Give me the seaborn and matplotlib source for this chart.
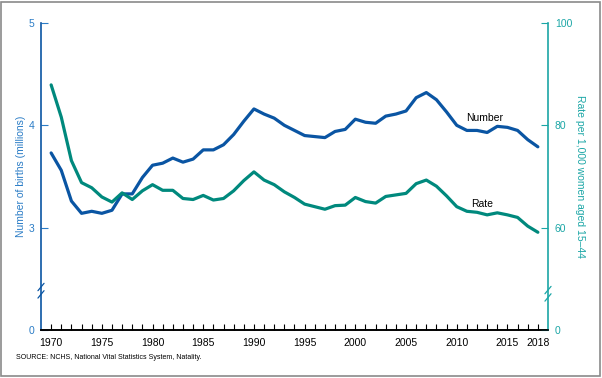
import pandas as pd
import seaborn as sns
import matplotlib.pyplot as plt
from matplotlib.transforms import blended_transform_factory

# Births (millions) and general fertility rate, 1970-2018
years = list(range(1970, 2019))
births = [3.73, 3.56, 3.26, 3.14, 3.16, 3.14, 3.17, 3.33, 3.33, 3.49,
          3.61, 3.63, 3.68, 3.64, 3.67, 3.76, 3.76, 3.81, 3.91, 4.04,
          4.16, 4.11, 4.07, 4.00, 3.95, 3.90, 3.89, 3.88, 3.94, 3.96,
          4.06, 4.03, 4.02, 4.09, 4.11, 4.14, 4.27, 4.32, 4.25, 4.13,
          4.00, 3.95, 3.95, 3.93, 3.99, 3.98, 3.95, 3.86, 3.79]
rate = [87.9, 81.6, 73.1, 68.8, 67.8, 66.0, 65.0, 66.8, 65.5, 67.2,
        68.4, 67.3, 67.3, 65.7, 65.5, 66.3, 65.4, 65.7, 67.2, 69.2,
        70.9, 69.3, 68.4, 67.0, 65.9, 64.6, 64.1, 63.6, 64.3, 64.4,
        65.9, 65.1, 64.8, 66.1, 66.4, 66.7, 68.6, 69.3, 68.1, 66.2,
        64.1, 63.2, 63.0, 62.5, 62.9, 62.5, 62.0, 60.3, 59.1]
x_labels = [1970, 1975, 1980, 1985, 1990, 1995, 2000, 2005, 2010, 2015, 2018]

df = pd.DataFrame({"year": years, "births": births, "rate": rate})

sns.set_style("ticks")
plt.rcParams["font.family"] = ["Liberation Sans", "DejaVu Sans"]

blue_line = "#0a55a3"
blue_axis = "#2a7cc6"
teal_line = "#00897d"
teal_axis = "#1ba6a6"

fig = plt.figure(figsize=(6.02, 3.78), dpi=100)
ax = fig.add_axes([0.0681, 0.127, 0.8422, 0.8122])
ax2 = ax.twinx()

sns.lineplot(data=df, x="year", y="births", ax=ax, color=blue_line, linewidth=2.3)
sns.lineplot(data=df, x="year", y="rate", ax=ax2, color=teal_line, linewidth=2.3)

# broken axis: 0 sits where 2 (left) / 40 (right) would be
ax.set_xlim(1969, 2019)
ax.set_ylim(2, 5)
ax.set_yticks([2, 3, 4, 5], ["0", "3", "4", "5"])
ax2.set_ylim(40, 100)
ax2.set_yticks([40, 60, 80, 100], ["0", "60", "80", "100"])

ax.set_xticks(years)
ax.set_xticklabels([str(y) if y in x_labels else "" for y in years])
ax.tick_params(axis="x", direction="in", length=4, width=0.8, colors="black",
               labelsize=7.5, pad=6)
ax.tick_params(axis="y", direction="in", length=5, width=0.8, colors=blue_axis,
               labelsize=7.5, pad=5)
ax2.tick_params(axis="y", direction="in", length=5, width=0.8, colors=teal_axis,
                labelsize=7.5, pad=5)

for a in (ax, ax2):
    a.spines["top"].set_visible(False)
    a.spines["bottom"].set_color("black")
    a.spines["bottom"].set_linewidth(1.2)
ax.spines["right"].set_visible(False)
ax.spines["left"].set_color(blue_line)
ax.spines["left"].set_linewidth(1.2)
ax2.spines["left"].set_visible(False)
ax2.spines["right"].set_color(teal_axis)
ax2.spines["right"].set_linewidth(1.2)

ax.set_xlabel("")
ax.set_ylabel("Number of births (millions)", color=blue_axis, fontsize=7.5, labelpad=2)
ax2.set_ylabel("Rate per 1,000 women aged 15\u201344", color=teal_axis, fontsize=7.5,
               rotation=270, labelpad=9)

# break marks on the two vertical axes
for xpos, yfrac, col in [(0, 0.128, blue_line), (1, 0.118, teal_axis)]:
    tr = blended_transform_factory(ax.transAxes, ax.transAxes)
    for off in (-0.012, 0.012):
        ax.plot([xpos - 0.006, xpos + 0.006], [yfrac + off - 0.012, yfrac + off + 0.012],
                transform=tr, color=col, linewidth=0.9, clip_on=False)

ax.text(2010.9, 4.07, "Number", fontsize=7.5, color="black", va="center")
ax2.text(2011.4, 64.7, "Rate", fontsize=7.5, color="black", va="center")

fig.text(0.027, 0.053, "SOURCE: NCHS, National Vital Statistics System, Natality.",
         fontsize=5, color="black", va="center")

border = plt.Rectangle((0.002, 0.006), 0.995, 0.99, transform=fig.transFigure,
                       fill=False, edgecolor="#8a8a8a", linewidth=1.2)
fig.patches.append(border)

fig.savefig("out.png", dpi=100)
